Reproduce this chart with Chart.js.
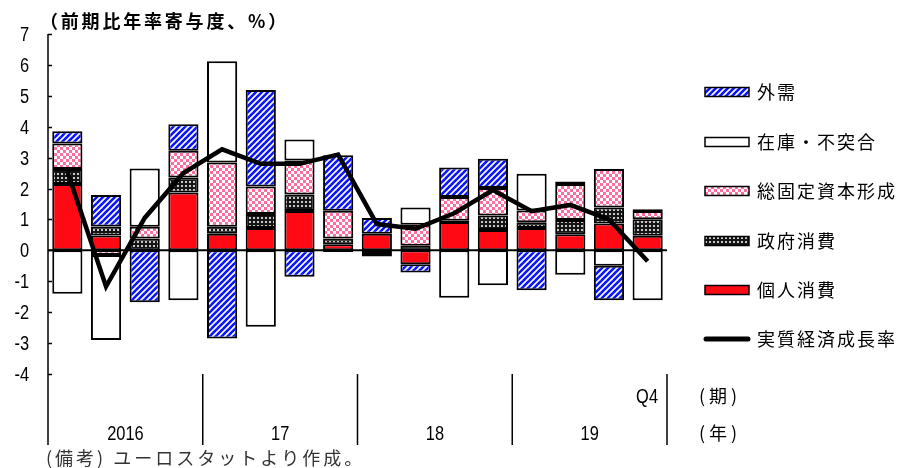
<!DOCTYPE html>
<html>
<head>
<meta charset="utf-8">
<script src="https://cdn.jsdelivr.net/npm/chart.js@4.4.1/dist/chart.umd.min.js"></script>
<style>
  html, body { margin: 0; padding: 0; background: #ffffff; }
  #wrap { width: 903px; height: 468px; position: relative; }
</style>
</head>
<body>
<div id="wrap"><canvas id="chart" width="903" height="468"></canvas></div>
<script>
// Quarterly categories, 2016 Q1 – 2019 Q4
const categories = [
  '2016Q1', '2016Q2', '2016Q3', '2016Q4',
  '2017Q1', '2017Q2', '2017Q3', '2017Q4',
  '2018Q1', '2018Q2', '2018Q3', '2018Q4',
  '2019Q1', '2019Q2', '2019Q3', '2019Q4'
];
const yearLabels = ['2016', '17', '18', '19'];
const lastQuarterLabel = 'Q4';

// Contributions to annualised q/q growth (percentage points)
const privateConsumption = [2.15, 0.48, 0.00, 1.87, 0.54, 0.72, 1.27, 0.20, 0.54, -0.45, 0.92, 0.66, 0.72, 0.52, 0.87, 0.47];
const governmentConsumption = [0.48, 0.29, 0.38, 0.49, 0.22, 0.46, 0.54, 0.18, 0.00, 0.15, 0.04, 0.47, 0.19, 0.46, 0.52, 0.54];
const fixedInvestment = [0.83, -0.15, 0.38, 0.86, 2.08, 0.89, 1.10, 0.90, -0.12, 0.68, 0.77, 0.89, 0.38, 1.17, 1.24, 0.26];
const inventories = [-1.40, -2.75, 1.89, -1.61, 3.28, -2.47, 0.68, -0.05, -0.08, 0.56, -1.53, -1.13, 1.19, -0.79, -0.50, -1.61];
const netExports = [0.39, 1.02, -1.68, 0.86, -2.85, 3.12, -0.85, 1.80, 0.51, -0.27, 0.95, 0.94, -1.29, 0.08, -1.11, 0.06];
const realGrowth = [2.55, -1.17, 1.05, 2.50, 3.27, 2.80, 2.80, 3.10, 0.85, 0.70, 1.20, 1.95, 1.27, 1.47, 1.00, -0.35];

const yMin = -4, yMax = 7;

const JP_FONT = '"Noto Sans CJK JP", "Noto Sans", sans-serif';
const NUM_FONT = '"Liberation Sans", Arial, sans-serif';
const NUM_SQUEEZE = 0.82;   // narrow digits

// ---- fill patterns ----
function makeTile(size, draw) {
  const c = document.createElement('canvas');
  c.width = size; c.height = size;
  const g = c.getContext('2d');
  draw(g, size);
  return document.createElement('canvas').getContext('2d').createPattern(c, 'repeat');
}
const blueStripes = makeTile(6, (g, s) => {
  g.fillStyle = '#ffffff'; g.fillRect(0, 0, s, s);
  g.strokeStyle = '#0a14ff'; g.lineWidth = 2.6;
  for (let k = -1; k <= 1; k++) {
    g.beginPath(); g.moveTo(k * s - 1, s + 1); g.lineTo(k * s + s + 1, -1); g.stroke();
  }
});
const pinkChecks = makeTile(6, (g, s) => {
  g.fillStyle = '#ff6d9e'; g.fillRect(0, 0, s, s);
  g.fillStyle = '#ffffff';
  g.fillRect(0, 0, 3, 3); g.fillRect(3, 3, 3, 3);
});
const darkChecks = makeTile(4, (g, s) => {
  g.fillStyle = '#151515'; g.fillRect(0, 0, s, s);
  g.fillStyle = '#c8c8c8';
  g.fillRect(1, 1, 2, 2);
});

function barSet(label, data, fill) {
  return {
    type: 'bar', label, data,
    backgroundColor: fill,
    borderColor: '#000000', borderWidth: 2, borderSkipped: false,
    barPercentage: 0.78, categoryPercentage: 1.0,
    stack: 'contrib', order: 1
  };
}

const datasets = [
  barSet('個人消費', privateConsumption, '#ff0a14'),
  barSet('政府消費', governmentConsumption, darkChecks),
  barSet('総固定資本形成', fixedInvestment, pinkChecks),
  barSet('在庫・不突合', inventories, '#ffffff'),
  barSet('外需', netExports, blueStripes),
  {
    type: 'line', label: '実質経済成長率', data: realGrowth,
    borderColor: '#000000', borderWidth: 4.5, pointRadius: 0, tension: 0,
    fill: false, stack: 'growth', order: 0, borderJoinStyle: 'miter'
  }
];

const legendRows = [
  { text: '外需', fill: blueStripes, y: 92 },
  { text: '在庫・不突合', fill: '#ffffff', y: 142 },
  { text: '総固定資本形成', fill: pinkChecks, y: 191 },
  { text: '政府消費', fill: darkChecks, y: 241 },
  { text: '個人消費', fill: '#ff0a14', y: 290 },
  { text: '実質経済成長率', line: true, y: 339 }
];

// draws narrow numeric text by squeezing horizontally around the anchor
function numText(ctx, str, x, y, align) {
  ctx.save();
  ctx.translate(x, y);
  ctx.scale(NUM_SQUEEZE, 1);
  ctx.textAlign = align;
  ctx.fillText(str, 0, 0);
  ctx.restore();
}

// Axis frame, zero line, category separators, texts and legend
const decorations = {
  id: 'decorations',
  afterDatasetsDraw(chart) {
    const { ctx, chartArea, scales } = chart;
    const y0 = scales.y.getPixelForValue(0);
    ctx.save();
    ctx.strokeStyle = '#000'; ctx.lineWidth = 2;
    ctx.beginPath(); ctx.moveTo(chartArea.left, y0); ctx.lineTo(chartArea.right, y0); ctx.stroke();
    ctx.restore();
  },
  afterDraw(chart) {
    const { ctx, chartArea, scales } = chart;
    const xs = scales.x, ys = scales.y;
    const left = chartArea.left;
    const catW = (chartArea.right - chartArea.left) / categories.length;
    const bottomLine = 445;
    ctx.save();
    ctx.strokeStyle = '#000'; ctx.lineWidth = 1.5;
    // vertical axis
    ctx.beginPath(); ctx.moveTo(left, chartArea.top); ctx.lineTo(left, bottomLine); ctx.stroke();
    // inward tick marks and value labels
    ctx.fillStyle = '#000';
    ctx.textBaseline = 'middle';
    ctx.font = '20px ' + NUM_FONT;
    ys.ticks.forEach(t => {
      const py = Math.round(ys.getPixelForValue(t.value)) + 0.5;
      ctx.beginPath(); ctx.moveTo(left, py); ctx.lineTo(left + 4, py); ctx.stroke();
      numText(ctx, String(t.value), 29, py + 1, 'right');
    });
    // year separators
    for (let k = 1; k <= yearLabels.length; k++) {
      const px = left + k * 4 * catW;
      ctx.beginPath(); ctx.moveTo(px, chartArea.bottom); ctx.lineTo(px, bottomLine); ctx.stroke();
    }
    // year row
    yearLabels.forEach((yl, k) => {
      const cx = left + (k * 4 + 2) * catW;
      numText(ctx, yl, cx, 434, 'center');
    });
    // quarter row: only the final quarter is labelled
    numText(ctx, lastQuarterLabel, xs.getPixelForValue(categories.length - 1) + catW / 2 - 9, 397, 'right');
    // row captions
    ctx.textAlign = 'left';
    ctx.font = '18px ' + JP_FONT;
    ctx.letterSpacing = '4px';
    ctx.fillText('(期)', 699, 396);
    ctx.fillText('(年)', 699, 433);
    // title
    ctx.font = 'bold 18px ' + JP_FONT;
    ctx.letterSpacing = '2.8px';
    ctx.fillText('（前期比年率寄与度、%）', 40, 21);
    // footnote
    ctx.font = '18px ' + JP_FONT;
    ctx.letterSpacing = '3px';
    ctx.fillStyle = '#333';
    ctx.fillText('(備考) ユーロスタットより作成。', 46, 458);
    // legend
    ctx.font = '18px ' + JP_FONT;
    ctx.letterSpacing = '2px';
    ctx.fillStyle = '#000';
    legendRows.forEach(r => {
      if (r.line) {
        ctx.lineWidth = 5; ctx.lineCap = 'round';
        ctx.beginPath(); ctx.moveTo(706, r.y); ctx.lineTo(748, r.y); ctx.stroke();
        ctx.lineCap = 'butt';
      } else {
        ctx.fillStyle = r.fill;
        ctx.fillRect(705, r.y - 4.5, 44, 9);
        ctx.lineWidth = 1.5;
        ctx.strokeRect(705, r.y - 4.5, 44, 9);
      }
      ctx.fillStyle = '#000';
      ctx.fillText(r.text, 757, r.y);
    });
    ctx.restore();
  }
};

new Chart(document.getElementById('chart'), {
  data: { labels: categories, datasets },
  options: {
    responsive: false,
    animation: false,
    layout: { padding: { left: 0, right: 236, top: 34, bottom: 94 } },
    plugins: { legend: { display: false }, tooltip: { enabled: false } },
    scales: {
      x: { display: false, stacked: true, offset: true },
      y: {
        stacked: true, min: yMin, max: yMax,
        afterFit(scale) { scale.width = 48; },
        grid: { display: false, drawTicks: false },
        border: { display: false },
        ticks: { stepSize: 1, display: false }
      }
    }
  },
  plugins: [decorations]
});
</script>
</body>
</html>
